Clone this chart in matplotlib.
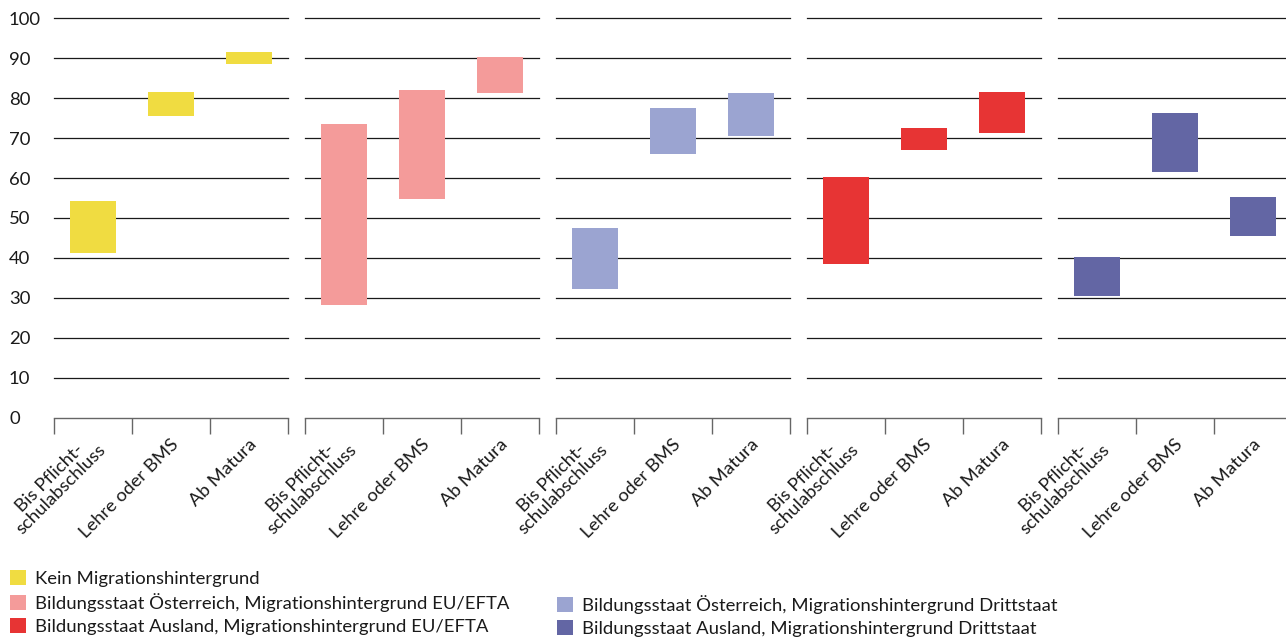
import numpy as np
import matplotlib
matplotlib.use("Agg")
import matplotlib.pyplot as plt
from matplotlib.patches import Patch
from matplotlib.transforms import blended_transform_factory, ScaledTranslation

plt.rcParams['font.family'] = ['Lato', 'DejaVu Sans']

# categories (x axis in every panel)
categories = ['Bis Pflicht-\nschulabschluss', 'Lehre oder BMS', 'Ab Matura']

# groups (one panel each)
groups = ['Kein Migrationshintergrund',
          'Bildungsstaat Österreich, Migrationshintergrund EU/EFTA',
          'Bildungsstaat Österreich, Migrationshintergrund Drittstaat',
          'Bildungsstaat Ausland, Migrationshintergrund EU/EFTA',
          'Bildungsstaat Ausland, Migrationshintergrund Drittstaat']
colors = ['#f0dc41', '#f49b9a', '#9ba4d1', '#e73434', '#6366a4']

# lower / upper ends of the range bars
low = [[41.3, 75.6, 88.6],
       [28.3, 54.8, 81.4],
       [32.3, 65.9, 70.6],
       [38.6, 67.0, 71.4],
       [30.5, 61.6, 45.6]]
high = [[54.3, 81.6, 91.6],
        [73.5, 82.0, 90.3],
        [47.5, 77.5, 81.3],
        [60.3, 72.5, 81.5],
        [40.2, 76.3, 55.3]]

yticks = np.arange(0, 101, 10)

W, H = 1286, 638
fig = plt.figure(figsize=(W / 100, H / 100), dpi=100)

left0, pw, step = 54, 234, 251
bottom_px, top_px = 417.7, 18.3
txt = '#1a1a1a'
fs = 13.3
x = np.arange(len(categories)) + 0.5

for i in range(len(groups)):
    ax = fig.add_axes([(left0 + i * step) / W, (H - bottom_px) / H,
                       pw / W, (bottom_px - top_px) / H])
    lo = np.array(low[i])
    hi = np.array(high[i])
    ax.bar(x, hi - lo, bottom=lo, width=0.59, color=colors[i], zorder=3)

    ax.set_xlim(0, 3)
    ax.set_ylim(0, 100)
    for spine in ['top', 'right', 'left']:
        ax.spines[spine].set_visible(False)
    ax.spines['bottom'].set_color('#666666')
    ax.spines['bottom'].set_linewidth(1.0)

    # gridlines
    for y in yticks[1:]:
        ax.axhline(y, color=txt, lw=0.9, zorder=1, clip_on=False)

    ax.set_xticks([0, 1, 2, 3])
    ax.set_xticklabels([])
    ax.tick_params(axis='x', length=11.5, width=1.0, color='#666666', direction='out')

    ax.set_yticks(yticks)
    if i == 0:
        ax.set_yticklabels([str(v) for v in yticks], fontsize=fs, color=txt)
        ax.tick_params(axis='y', length=0, pad=32.4)
        for lbl in ax.get_yticklabels():
            lbl.set_horizontalalignment('left')
    else:
        ax.set_yticklabels([])
        ax.tick_params(axis='y', length=0)

    trans = blended_transform_factory(ax.transData, ax.transAxes) + \
        ScaledTranslation(5 / 100, -24 / 100, fig.dpi_scale_trans)
    for xc, lab in zip(x, categories):
        ax.text(xc, 0, lab, transform=trans, rotation=45, rotation_mode='anchor',
                ha='right', va='center', multialignment='center',
                fontsize=fs, color=txt, linespacing=1.0)

handles = [Patch(facecolor=c, edgecolor='none') for c in colors]
leg_kw = dict(frameon=False, fontsize=fs, loc='upper left', borderpad=0,
              borderaxespad=0, handlelength=0.87, handleheight=0.87,
              handletextpad=0.5, labelspacing=0.34, labelcolor=txt)
fig.legend([handles[0], handles[1], handles[3]], [groups[0], groups[1], groups[3]],
           bbox_to_anchor=(10 / W, 1 - 570 / H), **leg_kw)
fig.legend([handles[2], handles[4]], [groups[2], groups[4]],
           bbox_to_anchor=(557 / W, 1 - 595 / H), **leg_kw)

fig.savefig('out.png', dpi=100)
